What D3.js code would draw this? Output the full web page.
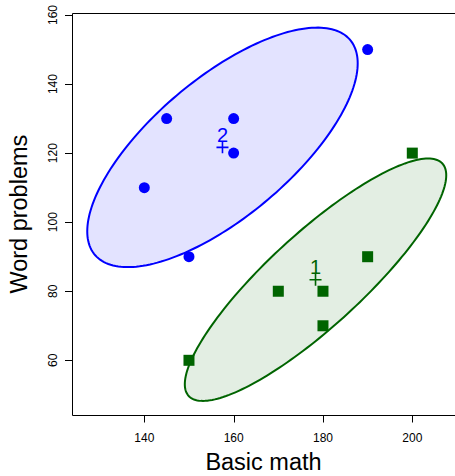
<!DOCTYPE html>
<html>
<head>
<meta charset="utf-8">
<script src="https://cdn.jsdelivr.net/npm/d3@7"></script>
<style>
  html, body { margin: 0; padding: 0; background: #fff; }
  svg { display: block; font-family: "Liberation Sans", Arial, sans-serif; }
</style>
</head>
<body>
<svg id="chart" width="455" height="476"></svg>
<script>
// Scores of two groups on basic math (x) and word problems (y)
const group1Math = [150, 170, 180, 180, 190, 200];
const group1Word = [60, 80, 80, 70, 90, 120];
const group2Math = [140, 145, 150, 160, 160, 190];
const group2Word = [110, 130, 90, 130, 120, 150];
const groupNames = ["1", "2"];
const groupColors = ["#006400", "#0000ff"];
const xTicks = [140, 160, 180, 200];
const yTicks = [60, 80, 100, 120, 140, 160];
const xDomain = [123.81, 209.56];
const yDomain = [44.16, 160.49];
const ellipseLevel = 0.68;

const width = 455, height = 476;
const plot = { left: 72, right: 455, top: 13.3, bottom: 415 };

const svg = d3.select("#chart");
const x = d3.scaleLinear().domain(xDomain).range([plot.left, plot.right]);
const y = d3.scaleLinear().domain(yDomain).range([plot.bottom, plot.top]);

const groups = [
  { name: groupNames[0], color: groupColors[0], xs: group1Math, ys: group1Word, shape: "square" },
  { name: groupNames[1], color: groupColors[1], xs: group2Math, ys: group2Word, shape: "circle" }
];

// Radius of the data ellipse: sqrt(2 * F(level; 2, n-1))
function ellipseRadius(level, n) {
  const d2 = n - 1;
  const f = (Math.pow(1 - level, -2 / d2) - 1) * d2 / 2;
  return Math.sqrt(2 * f);
}

function ellipsePoints(xs, ys, level) {
  const n = xs.length;
  const mx = d3.mean(xs), my = d3.mean(ys);
  let sxx = 0, syy = 0, sxy = 0;
  for (let i = 0; i < n; i++) {
    sxx += (xs[i] - mx) ** 2;
    syy += (ys[i] - my) ** 2;
    sxy += (xs[i] - mx) * (ys[i] - my);
  }
  sxx /= n - 1; syy /= n - 1; sxy /= n - 1;
  // Cholesky factor of the covariance matrix
  const l11 = Math.sqrt(sxx);
  const l21 = sxy / l11;
  const l22 = Math.sqrt(syy - l21 * l21);
  const r = ellipseRadius(level, n);
  const pts = [];
  for (let k = 0; k < 200; k++) {
    const t = 2 * Math.PI * k / 200;
    const u = Math.cos(t), v = Math.sin(t);
    pts.push([mx + r * l11 * u, my + r * (l21 * u + l22 * v)]);
  }
  return { pts, mx, my };
}

const line = d3.line().x(d => x(d[0])).y(d => y(d[1])).curve(d3.curveLinearClosed);

// Ellipses
groups.forEach(g => {
  const e = ellipsePoints(g.xs, g.ys, ellipseLevel);
  g.mx = e.mx; g.my = e.my;
  svg.append("path")
    .attr("d", line(e.pts))
    .attr("fill", g.color)
    .attr("fill-opacity", 0.11)
    .attr("stroke", g.color)
    .attr("stroke-width", 2);
});

// Points
groups.forEach(g => {
  const data = g.xs.map((v, i) => [v, g.ys[i]]);
  if (g.shape === "circle") {
    svg.append("g").selectAll("circle").data(data).join("circle")
      .attr("cx", d => x(d[0])).attr("cy", d => y(d[1]))
      .attr("r", 5.5).attr("fill", g.color);
  } else {
    svg.append("g").selectAll("rect").data(data).join("rect")
      .attr("x", d => x(d[0]) - 5.5).attr("y", d => y(d[1]) - 5.5)
      .attr("width", 11).attr("height", 11).attr("fill", g.color);
  }
});

// Group centroids with labels
groups.forEach(g => {
  const cx = x(g.mx), cy = y(g.my);
  svg.append("path")
    .attr("d", `M${cx - 6},${cy}H${cx + 6}M${cx},${cy - 6}V${cy + 6}`)
    .attr("stroke", g.color).attr("stroke-width", 1.6).attr("fill", "none");
  svg.append("text")
    .attr("x", cx).attr("y", cy - 5.5)
    .attr("text-anchor", "middle")
    .attr("font-size", 20)
    .attr("fill", g.color)
    .text(g.name);
});

// Plot frame
svg.append("path")
  .attr("d", `M${plot.right + 2},13.5H72.5V415.5H${plot.right + 2}`)
  .attr("fill", "none").attr("stroke", "#000").attr("stroke-width", 1);

// X axis ticks and labels
const xAxis = svg.append("g");
xAxis.selectAll("line").data(xTicks).join("line")
  .attr("x1", d => Math.round(x(d)) + 0.5).attr("x2", d => Math.round(x(d)) + 0.5)
  .attr("y1", 415).attr("y2", 422.5)
  .attr("stroke", "#000");
xAxis.selectAll("text").data(xTicks).join("text")
  .attr("x", d => x(d)).attr("y", 442)
  .attr("text-anchor", "middle").attr("font-size", 12).attr("fill", "#000")
  .text(d => d);

// Y axis ticks and labels
const yAxis = svg.append("g");
yAxis.selectAll("line").data(yTicks).join("line")
  .attr("y1", d => Math.round(y(d)) + 0.5).attr("y2", d => Math.round(y(d)) + 0.5)
  .attr("x1", 65).attr("x2", 72.5)
  .attr("stroke", "#000");
yAxis.selectAll("text").data(yTicks).join("text")
  .attr("transform", d => `translate(56.7,${y(d)}) rotate(-90)`)
  .attr("text-anchor", "middle").attr("font-size", 12).attr("fill", "#000")
  .text(d => d);

// Axis titles
svg.append("text")
  .attr("x", (plot.left + plot.right) / 2).attr("y", 470)
  .attr("text-anchor", "middle").attr("font-size", 23.5).attr("fill", "#000")
  .text("Basic math");
svg.append("text")
  .attr("transform", `translate(27,${(plot.top + plot.bottom) / 2}) rotate(-90)`)
  .attr("text-anchor", "middle").attr("font-size", 23.5).attr("fill", "#000")
  .text("Word problems");
</script>
</body>
</html>
